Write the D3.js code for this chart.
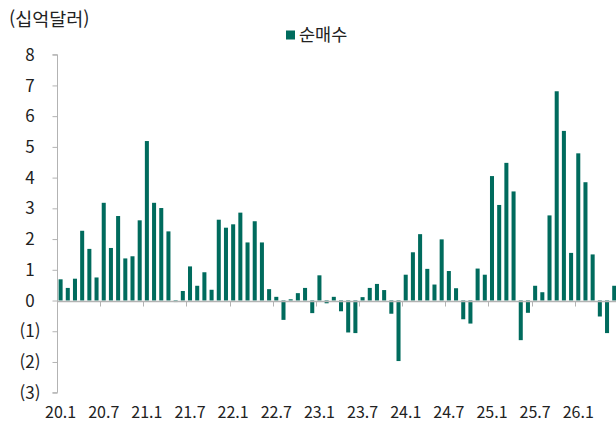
<!DOCTYPE html>
<html lang="ko">
<head>
<meta charset="UTF-8" />
<title>순매수</title>
<script src="https://d3js.org/d3.v7.min.js"></script>
<style>
  body { margin: 0; background: #fff; }
  svg { display: block; font-family: "Noto Sans CJK KR", "Noto Sans", sans-serif; }
</style>
</head>
<body>
<svg id="chart"></svg>
<script>
// monthly categories 20.1 .. 26.6
const months = [];
for (let y = 20; y <= 26; y++) {
  for (let m = 1; m <= 12; m++) {
    if (y === 26 && m > 6) break;
    months.push(y + "." + m);
  }
}
const netBuy = [
  0.69, 0.41, 0.71, 2.27, 1.68, 0.75, 3.18, 1.71, 2.75, 1.37, 1.44, 2.61,
  5.19, 3.18, 3.01, 2.25, -0.05, 0.31, 1.11, 0.48, 0.92, 0.35, 2.63, 2.37,
  2.48, 2.86, 1.89, 2.58, 1.89, 0.37, 0.12, -0.63, 0.04, 0.24, 0.41, -0.41,
  0.82, -0.09, 0.12, -0.35, -1.04, -1.06, 0.11, 0.41, 0.54, 0.34, -0.43, -1.97,
  0.84, 1.57, 2.16, 1.03, 0.52, 1.99, 0.96, 0.40, -0.61, -0.75, 1.04, 0.84,
  4.05, 3.11, 4.48, 3.55, -1.29, -0.40, 0.48, 0.27, 2.77, 6.81, 5.52, 1.55,
  4.79, 3.85, 1.50, -0.52, -1.06, 0.48
];
const xTickLabels = ["20.1", "20.7", "21.1", "21.7", "22.1", "22.7", "23.1",
  "23.7", "24.1", "24.7", "25.1", "25.7", "26.1"];
const yTicks = [8, 7, 6, 5, 4, 3, 2, 1, 0, -1, -2, -3];
const unitLabel = "(십억달러)";
const seriesName = "순매수";

const W = 616, H = 423;
const barColor = "#006b5d";
const axisColor = "#b3b3b3";

const svg = d3.select("#chart").attr("width", W).attr("height", H);

const x = d3.scaleBand().domain(months).range([57, 57 + months.length * 7.19]).paddingInner(0.44).paddingOuter(0.22);
const y = d3.scaleLinear().domain([-3, 8]).range([392.7, 54.7]);

// bars
svg.append("g").selectAll("rect")
  .data(netBuy)
  .join("rect")
  .attr("x", (d, i) => x(months[i]))
  .attr("width", x.bandwidth())
  .attr("y", d => y(Math.max(0, d)))
  .attr("height", d => Math.abs(y(d) - y(0)))
  .attr("fill", barColor);

// y axis
const yAxis = svg.append("g")
  .attr("transform", "translate(57.5,0)")
  .call(d3.axisLeft(y).tickValues(yTicks).tickSize(5).tickFormat(""));
yAxis.select(".domain").attr("stroke", axisColor).attr("d", `M-5,${y(8)}H0V${y(-3)}H-5`);
yAxis.selectAll(".tick line").attr("stroke", axisColor);

svg.append("g").selectAll("text")
  .data(yTicks)
  .join("text")
  .attr("x", 30)
  .attr("y", d => y(d))
  .attr("dy", "0.36em")
  .attr("text-anchor", "middle")
  .attr("font-size", 17)
  .attr("fill", "#222")
  .text(d => d < 0 ? "(" + (-d) + ")" : d);

// x axis at zero
const boundaries = xTickLabels.map(l => months.indexOf(l)).filter(i => i > 0);
const xAxis = svg.append("g").attr("transform", `translate(0,${Math.round(y(0)) + 0.5})`);
xAxis.append("line")
  .attr("x1", 57).attr("x2", W)
  .attr("stroke", axisColor).attr("stroke-width", 1.3);
xAxis.selectAll(".tk")
  .data(boundaries)
  .join("line")
  .attr("class", "tk")
  .attr("x1", i => Math.round(x(months[i]) - x.step() * x.paddingInner() / 2) + 0.5)
  .attr("x2", i => Math.round(x(months[i]) - x.step() * x.paddingInner() / 2) + 0.5)
  .attr("y1", 0).attr("y2", 5)
  .attr("stroke", axisColor);

svg.append("g").selectAll("text")
  .data(xTickLabels)
  .join("text")
  .attr("x", d => x(d) + x.bandwidth() / 2)
  .attr("y", 418)
  .attr("text-anchor", "middle")
  .attr("font-size", 16)
  .attr("fill", "#222")
  .text(d => d);

// unit label
svg.append("text")
  .attr("x", 9).attr("y", 26)
  .attr("font-size", 18.5)
  .attr("fill", "#222")
  .text(unitLabel);

// legend
svg.append("rect")
  .attr("x", 286).attr("y", 30.5).attr("width", 9).attr("height", 9)
  .attr("fill", barColor);
svg.append("text")
  .attr("x", 299).attr("y", 41)
  .attr("font-size", 17.5)
  .attr("fill", "#222")
  .text(seriesName);
</script>
</body>
</html>
